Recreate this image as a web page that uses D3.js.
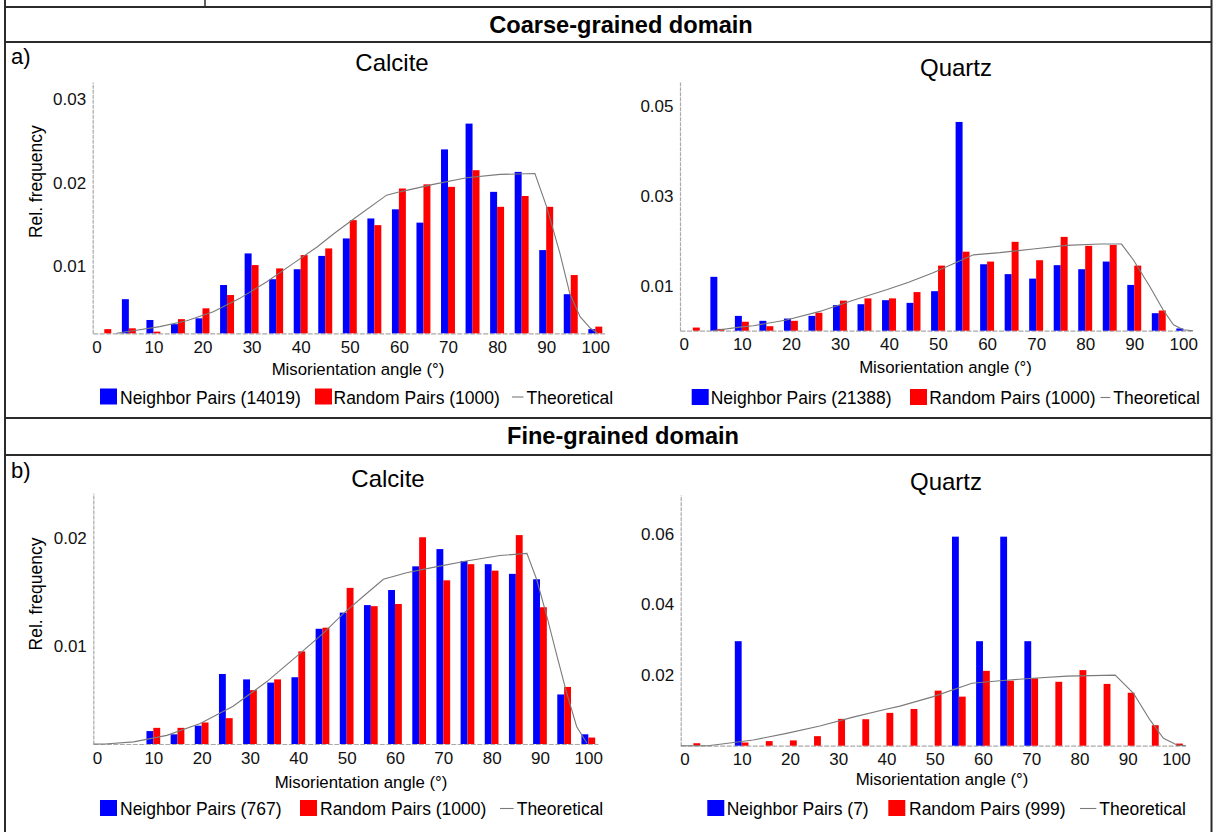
<!DOCTYPE html>
<html>
<head>
<meta charset="utf-8">
<script src="https://cdn.jsdelivr.net/npm/d3@7"></script>
<style>
  html, body { margin: 0; padding: 0; background: #fff; }
  svg { display: block; font-family: "Liberation Sans", Arial, sans-serif; }
</style>
</head>
<body>
<svg id="fig" width="1213" height="832"></svg>
<script>
// Misorientation angle bins (degrees)
const angles = [0, 5, 10, 15, 20, 25, 30, 35, 40, 45, 50, 55, 60, 65, 70, 75, 80, 85, 90, 95, 100];
const xTickValues = [0, 10, 20, 30, 40, 50, 60, 70, 80, 90, 100];

// Coarse-grained domain, calcite
const calciteCoarseNeighbor = [0, 0.0060, 0.0035, 0.0030, 0.0037, 0.0077, 0.0115, 0.0084, 0.0096, 0.0112, 0.0133,
  0.0157, 0.0168, 0.0152, 0.0240, 0.0271, 0.0189, 0.0213, 0.0119, 0.0066, 0.0024];
const calciteCoarseRandom = [0.0024, 0.0025, 0.0021, 0.0036, 0.0049, 0.0065, 0.0101, 0.0097, 0.0113, 0.0121, 0.0155,
  0.0149, 0.0193, 0.0198, 0.0195, 0.0215, 0.0171, 0.0184, 0.0171, 0.0089, 0.0027];
const calciteCoarseTheory = [[2.5, 0.0019], [5.9, 0.0022], [11.3, 0.0027], [16.8, 0.0034], [22.2, 0.0045], [27.6, 0.0061],
  [33.1, 0.0081], [38.5, 0.0103], [43.4, 0.0123], [46.8, 0.0139], [51.4, 0.0159], [57.5, 0.0185], [60.2, 0.0189],
  [67.0, 0.0198], [73.8, 0.0206], [80.6, 0.0210], [87.7, 0.0211], [90.1, 0.0171], [92.8, 0.0115], [94.8, 0.0067],
  [96.9, 0.0039], [99.0, 0.0025], [100.5, 0.0019]];
const calciteCoarseTicks = [0.01, 0.02, 0.03];

// Coarse-grained domain, quartz
const quartzCoarseNeighbor = [0, 0.0120, 0.0033, 0.0022, 0.0027, 0.0033, 0.0057, 0.0059, 0.0068, 0.0062, 0.0088,
  0.0465, 0.0148, 0.0126, 0.0116, 0.0146, 0.0137, 0.0154, 0.0102, 0.0039, 0.0005];
const quartzCoarseRandom = [0.0007, 0.0004, 0.0020, 0.0010, 0.0022, 0.0040, 0.0067, 0.0072, 0.0072, 0.0086, 0.0145,
  0.0176, 0.0154, 0.0198, 0.0157, 0.0209, 0.0189, 0.0191, 0.0145, 0.0045, 0];
const quartzCoarseTheory = [[4.0, 0], [9.6, 0.0008], [12.3, 0.0011], [19.1, 0.0024], [25.9, 0.0043], [32.7, 0.0068],
  [39.5, 0.0091], [44.0, 0.0108], [49.0, 0.0129], [57.2, 0.0169], [62.6, 0.0174], [69.4, 0.0182], [76.2, 0.0190],
  [83.0, 0.0193], [87.4, 0.0193], [89.8, 0.0158], [93.2, 0.0098], [95.9, 0.0046], [98.0, 0.0013], [100.0, 0.0002],
  [102.0, 0]];
const quartzCoarseTicks = [0.01, 0.03, 0.05];

// Fine-grained domain, calcite
const calciteFineNeighbor = [0, 0, 0.0021, 0.0018, 0.0026, 0.0074, 0.0069, 0.0066, 0.0071, 0.0116, 0.0131,
  0.0138, 0.0152, 0.0174, 0.0190, 0.0179, 0.0176, 0.0167, 0.0162, 0.0055, 0.0018];
const calciteFineRandom = [0, 0, 0.0024, 0.0024, 0.0029, 0.0033, 0.0059, 0.0069, 0.0095, 0.0117, 0.0154,
  0.0137, 0.0139, 0.0201, 0.0161, 0.0176, 0.0170, 0.0203, 0.0136, 0.0062, 0.0015];
const calciteFineTheory = [[-2.4, 0.0009], [0, 0.0009], [5.9, 0.0011], [12.8, 0.0017], [19.7, 0.0028], [26.5, 0.0044],
  [33.5, 0.0067], [40.3, 0.0093], [45.2, 0.0112], [49.3, 0.0130], [53.4, 0.0146], [57.6, 0.0162], [62.4, 0.0168],
  [67.9, 0.0173], [74.8, 0.0179], [81.7, 0.0184], [87.3, 0.0186], [89.3, 0.0162], [91.4, 0.0128], [93.5, 0.0091],
  [95.5, 0.0057], [97.6, 0.0025], [99.7, 0.0010]];
const calciteFineTicks = [0.01, 0.02];

// Fine-grained domain, quartz
const quartzFineNeighbor = [0, 0, 0.0296, 0, 0, 0, 0, 0, 0, 0, 0,
  0.0592, 0.0296, 0.0592, 0.0296, 0, 0, 0, 0, 0, 0];
const quartzFineRandom = [0.0007, 0, 0.0009, 0.0013, 0.0015, 0.0027, 0.0076, 0.0075, 0.0093, 0.0104, 0.0156,
  0.0139, 0.0212, 0.0184, 0.0191, 0.0181, 0.0214, 0.0175, 0.0150, 0.0058, 0.0006];
const quartzFineTheory = [[-2.6, 0], [3.0, 0], [5.5, 0.0004], [12.4, 0.0016], [19.3, 0.0035], [26.2, 0.0056],
  [33.1, 0.0081], [40.1, 0.0104], [42.8, 0.0112], [49.7, 0.0139], [57.7, 0.0177], [63.5, 0.0184], [70.4, 0.0191],
  [77.4, 0.0197], [87.4, 0.0200], [91.2, 0.0148], [94.6, 0.0073], [97.4, 0.0021], [100.2, 0.0002], [102.0, 0]];
const quartzFineTicks = [0.02, 0.04, 0.06];

// Legend labels
const legendLabels = {
  calciteCoarse: ["Neighbor Pairs (14019)", "Random Pairs (1000)", "Theoretical"],
  quartzCoarse: ["Neighbor Pairs (21388)", "Random Pairs (1000)", "Theoretical"],
  calciteFine: ["Neighbor Pairs (767)", "Random Pairs (1000)", "Theoretical"],
  quartzFine: ["Neighbor Pairs (7)", "Random Pairs (999)", "Theoretical"]
};

const BLUE = "#0000ff", RED = "#ff0000", THEO = "#7a7a7a", AXIS = "#a9a9a9", FRAME = "#2b2b2b";
const BAR_W = 1.42; // bar width in degrees

const svg = d3.select("#fig");

// ---- table frame and section headers ----
const frame = svg.append("g").attr("stroke", FRAME).attr("stroke-width", 2).attr("fill", "none");
[7, 42, 418, 455].forEach(yy => frame.append("line").attr("x1", 4).attr("x2", 1212).attr("y1", yy).attr("y2", yy));
frame.append("line").attr("x1", 5).attr("x2", 5).attr("y1", 0).attr("y2", 832);
frame.append("line").attr("x1", 1211.5).attr("x2", 1211.5).attr("y1", 0).attr("y2", 832);
frame.append("line").attr("x1", 205).attr("x2", 205).attr("y1", 0).attr("y2", 7).attr("stroke-width", 1.5);

svg.append("text").attr("x", 621).attr("y", 33).attr("text-anchor", "middle")
  .attr("font-size", 23.6).attr("font-weight", "bold").text("Coarse-grained domain");
svg.append("text").attr("x", 623).attr("y", 444).attr("text-anchor", "middle")
  .attr("font-size", 23.6).attr("font-weight", "bold").text("Fine-grained domain");
svg.append("text").attr("x", 11).attr("y", 64).attr("font-size", 22).text("a)");
svg.append("text").attr("x", 11).attr("y", 478).attr("font-size", 22).text("b)");

// ---- panel layout ----
const panels = [
  { title: "Calcite", titleX: 392, titleY: 71, neighbor: calciteCoarseNeighbor, random: calciteCoarseRandom,
    theory: calciteCoarseTheory, ticks: calciteCoarseTicks, legend: legendLabels.calciteCoarse,
    axisX: 92.7, x0: 104.3, pxPerDeg: 4.91, right: 605.2,
    base: 333.3, top: 82, yMin: 0.0019, yMax: 0.0321,
    xTitleX: 358, xTitleY: 375, yTitle: [35.5, 181.7],
    legendY: 403.5, legendX: [100, 120, 315, 333.5, 512, 526.5] },
  { title: "Quartz", titleX: 956, titleY: 76, neighbor: quartzCoarseNeighbor, random: quartzCoarseRandom,
    theory: quartzCoarseTheory, ticks: quartzCoarseTicks, legend: legendLabels.quartzCoarse,
    axisX: 680, x0: 692.8, pxPerDeg: 4.905, right: 1193.1,
    base: 330.7, top: 82, yMin: 0, yMax: 0.0554,
    xTitleX: 945.5, xTitleY: 373, yTitle: null,
    legendY: 404, legendX: [691.7, 710.7, 910, 929.3, 1100.5, 1113.3] },
  { title: "Calcite", titleX: 388, titleY: 487, neighbor: calciteFineNeighbor, random: calciteFineRandom,
    theory: calciteFineTheory, ticks: calciteFineTicks, legend: legendLabels.calciteFine,
    axisX: 93.3, x0: 105, pxPerDeg: 4.833, right: 598,
    base: 744, top: 493, yMin: 0.0009, yMax: 0.02421,
    xTitleX: 361, xTitleY: 788, yTitle: [35.5, 594],
    legendY: 815, legendX: [100, 120, 300, 320, 500, 516.7] },
  { title: "Quartz", titleX: 946, titleY: 490, neighbor: quartzFineNeighbor, random: quartzFineRandom,
    theory: quartzFineTheory, ticks: quartzFineTicks, legend: legendLabels.quartzFine,
    axisX: 680.7, x0: 693.4, pxPerDeg: 4.826, right: 1185.6,
    base: 745.7, top: 495, yMin: 0, yMax: 0.0710,
    xTitleX: 942, xTitleY: 785, yTitle: null,
    legendY: 815, legendX: [707.3, 726.7, 888.3, 909, 1080, 1099.3] }
];

panels.forEach(drawPanel);

function drawPanel(p) {
  const x = d3.scaleLinear()
    .domain([(p.axisX - p.x0) / p.pxPerDeg, (p.right - p.x0) / p.pxPerDeg])
    .range([p.axisX, p.right]);
  const y = d3.scaleLinear().domain([p.yMin, p.yMax]).range([p.base, p.top]);
  const g = svg.append("g");

  // title
  g.append("text").attr("x", p.titleX).attr("y", p.titleY).attr("text-anchor", "middle")
    .attr("font-size", 24).text(p.title);

  // axes
  const xAxis = g.append("g").attr("transform", `translate(0,${p.base})`)
    .call(d3.axisBottom(x).tickValues(xTickValues).tickSize(0).tickPadding(7.5).tickFormat(d3.format("d")));
  xAxis.select(".domain").attr("stroke", AXIS).attr("stroke-width", 1.2).attr("stroke-dasharray", "5,1.5");
  xAxis.selectAll(".tick text").attr("font-size", 17).attr("fill", "#111")
    .attr("font-family", "'Liberation Sans', Arial, sans-serif");
  xAxis.selectAll(".tick").filter(d => d === 0).select("text")
    .attr("text-anchor", "start").attr("x", p.axisX - x(0) - 1);

  const yAxis = g.append("g").attr("transform", `translate(${p.axisX},0)`)
    .call(d3.axisLeft(y).tickValues(p.ticks).tickSize(0).tickPadding(6.5).tickFormat(d3.format(".2f")));
  yAxis.select(".domain").attr("stroke", AXIS).attr("stroke-width", 1.2).attr("stroke-dasharray", "4,1");
  yAxis.selectAll(".tick text").attr("font-size", 17).attr("fill", "#111")
    .attr("font-family", "'Liberation Sans', Arial, sans-serif");

  // axis titles
  g.append("text").attr("x", p.xTitleX).attr("y", p.xTitleY).attr("text-anchor", "middle")
    .attr("font-size", 16.8).text("Misorientation angle (°)");
  if (p.yTitle) {
    g.append("text").attr("transform", `translate(${p.yTitle[0]},${p.yTitle[1]}) rotate(-90)`)
      .attr("text-anchor", "middle").attr("dominant-baseline", "central")
      .attr("font-size", 17.5).text("Rel. frequency");
  }

  // bars
  const h = v => Math.max(v, p.yMin);
  const neighborData = angles.map((a, i) => ({ a, v: p.neighbor[i] }));
  const randomData = angles.map((a, i) => ({ a, v: p.random[i] }));
  g.append("g").selectAll("rect").data(neighborData).join("rect")
    .attr("x", d => x(d.a - BAR_W)).attr("width", d => x(d.a) - x(d.a - BAR_W))
    .attr("y", d => y(h(d.v))).attr("height", d => y(p.yMin) - y(h(d.v)))
    .attr("fill", BLUE);
  g.append("g").selectAll("rect").data(randomData).join("rect")
    .attr("x", d => x(d.a)).attr("width", d => x(d.a + BAR_W) - x(d.a))
    .attr("y", d => y(h(d.v))).attr("height", d => y(p.yMin) - y(h(d.v)))
    .attr("fill", RED);

  // theoretical distribution
  g.append("path").datum(p.theory)
    .attr("d", d3.line().x(d => x(d[0])).y(d => y(h(d[1]))))
    .attr("fill", "none").attr("stroke", THEO).attr("stroke-width", 1.1);

  // legend
  const L = p.legendX, ly = p.legendY;
  const leg = g.append("g").attr("font-size", 17.5);
  leg.append("rect").attr("x", L[0]).attr("y", ly - 15).attr("width", 17).attr("height", 16).attr("fill", BLUE);
  leg.append("text").attr("x", L[1]).attr("y", ly).text(p.legend[0]);
  leg.append("rect").attr("x", L[2]).attr("y", ly - 15).attr("width", 17).attr("height", 16).attr("fill", RED);
  leg.append("text").attr("x", L[3]).attr("y", ly).text(p.legend[1]);
  leg.append("line").attr("x1", L[4]).attr("x2", L[5] - 3).attr("y1", ly - 6.5).attr("y2", ly - 6.5)
    .attr("stroke", THEO).attr("stroke-width", 1.1);
  leg.append("text").attr("x", L[5]).attr("y", ly).text(p.legend[2]);
}
</script>
</body>
</html>
